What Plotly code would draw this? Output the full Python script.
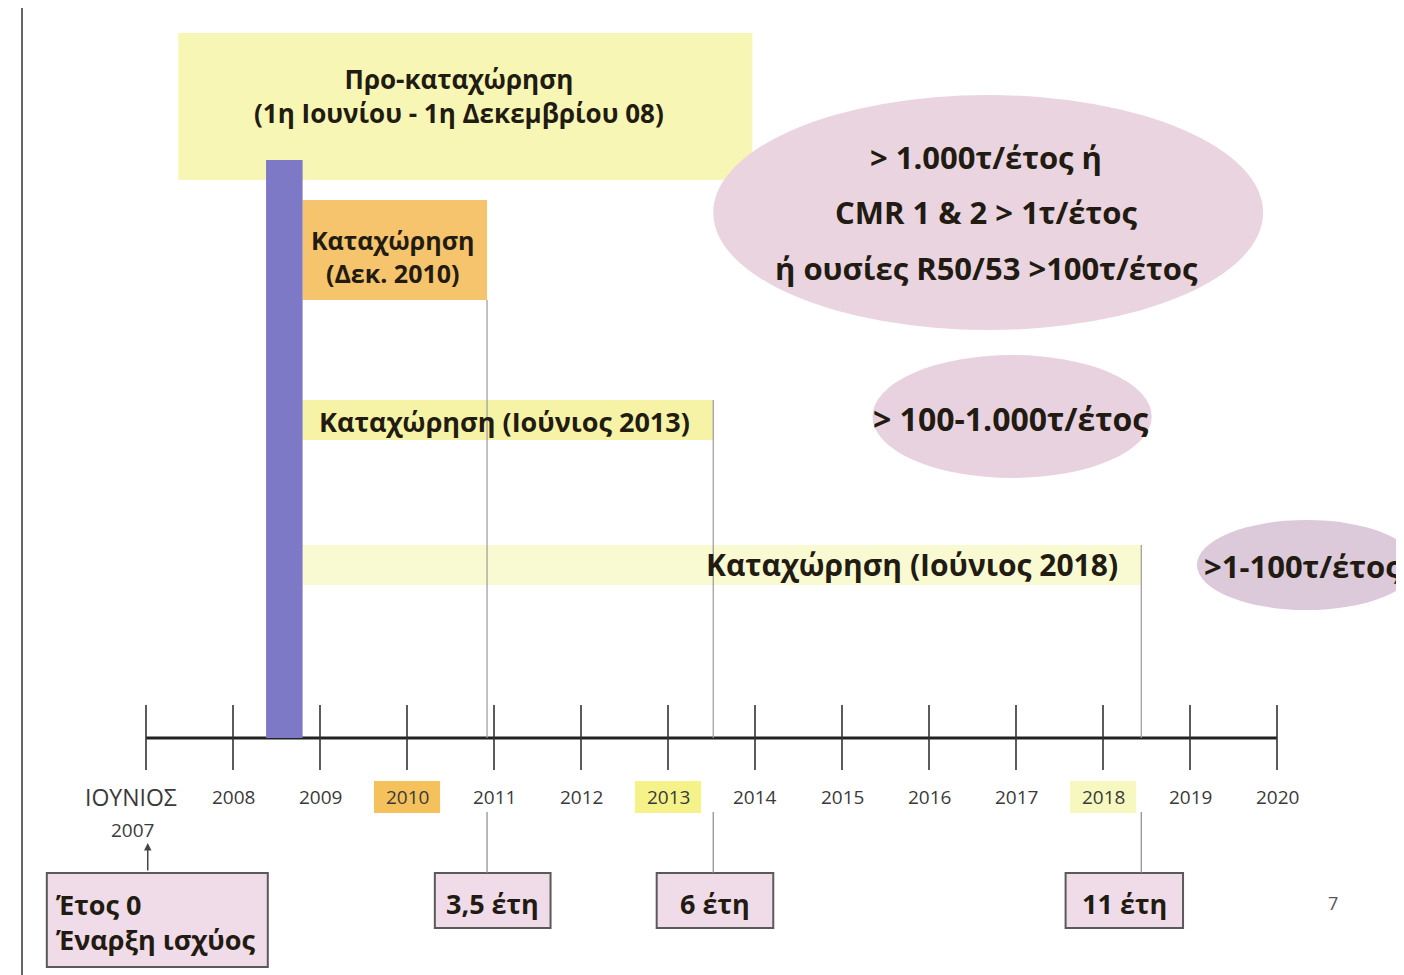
import plotly.graph_objects as go

# ---------------- data ----------------
tick_years = [2007, 2008, 2009, 2010, 2011, 2012, 2013, 2014, 2015, 2016, 2017, 2018, 2019, 2020]
tick_labels = ["ΙΟΥΝΙΟΣ", "2008", "2009", "2010", "2011", "2012", "2013", "2014",
               "2015", "2016", "2017", "2018", "2019", "2020"]
highlight_years = [2010, 2013, 2018]
highlight_colors = ["#f4c15c", "#f6f28a", "#f7f7c0"]

# phases (start year, end year)
pre_reg_lines = ["Προ-καταχώρηση", "(1η Ιουνίου - 1η Δεκεμβρίου 08)"]
pre_reg_box = (2007.37, 2013.97)
pre_reg_bar = (2008.38, 2008.80)

reg_labels = [["Καταχώρηση", "(Δεκ. 2010)"], ["Καταχώρηση (Ιούνιος 2013)"], ["Καταχώρηση (Ιούνιος 2018)"]]
reg_start = [2008.80, 2008.80, 2008.80]
reg_deadline = [2010.92, 2013.52, 2018.44]
reg_colors = ["#f6c46c", "#f7f3a6", "#fafad2"]

tonnage_labels = [["> 1.000τ/έτος ή", "CMR 1 & 2 > 1τ/έτος", "ή ουσίες R50/53 >100τ/έτος"],
                  ["> 100-1.000τ/έτος"], [">1-100τ/έτος"]]
tonnage_x = [(2013.52, 2019.84), (2015.35, 2018.56), (2019.08, 2021.60)]
tonnage_colors = ["#ead4e0", "#e8d2df", "#dccadb"]

duration_labels = [["Έτος 0", "Έναρξη ισχύος"], ["3,5 έτη"], ["6 έτη"], ["11 έτη"]]
duration_box_x = [(2005.86, 2008.40), (2010.32, 2011.65), (2012.87, 2014.21), (2017.57, 2018.92)]
duration_link_x = [2007.02, 2010.92, 2013.52, 2018.44]

# ---------------- layout geometry ----------------
W, H = 1396, 967              # page has an 8px body margin
X0 = 2007 - (146 - 8) / 87.0  # 87 px per year, June 2007 tick at page x=146
X1 = X0 + W / 87.0
AXIS_Y = 738
FONT = "Open Sans"
TXT = "#211b12"

shapes = []
annotations = []


def txt(x, y, s, size, anchor="center", color=TXT, bold=True, align="center"):
    annotations.append(dict(x=x, y=y, text=s, showarrow=False, xanchor=anchor, yanchor="middle",
                            align=align,
                            font=dict(family=FONT, size=size, color=color,
                                      weight="bold" if bold else "normal")))


# left page border
shapes.append(dict(type="line", xref="paper", yref="y", x0=(22 - 8) / W, x1=(22 - 8) / W,
                   y0=8, y1=975, line=dict(color="#666", width=2)))

# pre-registration box
shapes.append(dict(type="rect", x0=pre_reg_box[0], x1=pre_reg_box[1], y0=33, y1=180,
                   fillcolor="#f8f6b4", line=dict(width=0), layer="below"))
txt(2010.60, 96, "<br>".join(pre_reg_lines), 26)

# registration rows
row_y = [(200, 300), (400, 440), (545, 585)]
for i, (s, e, c) in enumerate(zip(reg_start, reg_deadline, reg_colors)):
    y0, y1 = row_y[i]
    shapes.append(dict(type="rect", x0=s, x1=e, y0=y0, y1=y1, fillcolor=c,
                       line=dict(width=0), layer="below"))
    shapes.append(dict(type="line", x0=e, x1=e, y0=y0 if i else y1, y1=AXIS_Y,
                       line=dict(color="#9a9a9a", width=1.2)))
txt(2009.83, 256, "<br>".join(reg_labels[0]), 25)
txt(2008.97, 421, reg_labels[1][0], 27, anchor="left")
txt(2018.20, 564, reg_labels[2][0], 30, anchor="right")

# purple pre-registration bar
shapes.append(dict(type="rect", x0=pre_reg_bar[0], x1=pre_reg_bar[1], y0=160, y1=AXIS_Y,
                   fillcolor="#7d79c6", line=dict(width=0)))

# tonnage ellipses
ell_y = [(95, 330), (355, 478), (520, 610)]
for (a, b), c, (y0, y1) in zip(tonnage_x, tonnage_colors, ell_y):
    shapes.append(dict(type="circle", x0=a, x1=b, y0=y0, y1=y1,
                       fillcolor=c, line=dict(width=0), layer="below"))
for s, yy in zip(tonnage_labels[0], [157, 212, 268]):
    txt(2016.66, yy, s, 31)
txt(2016.94, 418, tonnage_labels[1][0], 32)
txt(2019.14, 566, tonnage_labels[2][0], 31, anchor="left")

# tick label highlights
for yr, c in zip(highlight_years, highlight_colors):
    shapes.append(dict(type="rect", x0=yr - 0.38, x1=yr + 0.38, y0=781, y1=813,
                       fillcolor=c, line=dict(width=0), layer="below"))

# tick labels
for yr, lab in zip(tick_years, tick_labels):
    if yr == tick_years[0]:
        txt(2006.83, 797, lab, 23, color="#3a3a3a", bold=False)
    else:
        txt(yr, 797, lab, 19, color="#3a3a3a", bold=False)
txt(2006.85, 830, "2007", 19, color="#3a3a3a", bold=False)

# duration boxes and links
for i, (lab, (a, b), lx) in enumerate(zip(duration_labels, duration_box_x, duration_link_x)):
    y1 = 967 if i == 0 else 928
    shapes.append(dict(type="rect", x0=a, x1=b, y0=873, y1=y1, fillcolor="#f0dbe8",
                       line=dict(color="#5a5a5a", width=2)))
    if i == 0:
        txt(a + 0.08, 922, "<br>".join(lab), 27, anchor="left", align="left")
    else:
        shapes.append(dict(type="line", x0=lx, x1=lx, y0=812, y1=873,
                           line=dict(color="#8a8a8a", width=1.2)))
        txt((a + b) / 2, 903, lab[0], 27)

# arrow from "Έτος 0" up to June 2007
annotations.append(dict(x=duration_link_x[0], y=843, ax=duration_link_x[0], ay=872,
                        xref="x", yref="y", axref="x", ayref="y", text="", showarrow=True,
                        arrowhead=2, arrowsize=1, arrowwidth=1.5, arrowcolor="#444"))

# page number
txt(2020.64, 903, "7", 18, color="#555", bold=False)

fig = go.Figure()

# timeline axis
fig.add_trace(go.Scatter(x=[tick_years[0], tick_years[-1]], y=[AXIS_Y, AXIS_Y], mode="lines",
                         line=dict(color="#222", width=3), hoverinfo="skip", showlegend=False))
tx, ty = [], []
for yr in tick_years:
    tx += [yr, yr, None]
    ty += [705, 770, None]
fig.add_trace(go.Scatter(x=tx, y=ty, mode="lines", line=dict(color="#333", width=1.6),
                         hoverinfo="skip", showlegend=False))

fig.update_layout(
    width=W, height=H,
    margin=dict(l=0, r=0, t=0, b=0),
    paper_bgcolor="white", plot_bgcolor="white",
    xaxis=dict(range=[X0, X1], visible=False, fixedrange=True),
    yaxis=dict(range=[975, 8], visible=False, fixedrange=True),
    shapes=shapes, annotations=annotations, showlegend=False,
)

fig.write_html("out.html")
